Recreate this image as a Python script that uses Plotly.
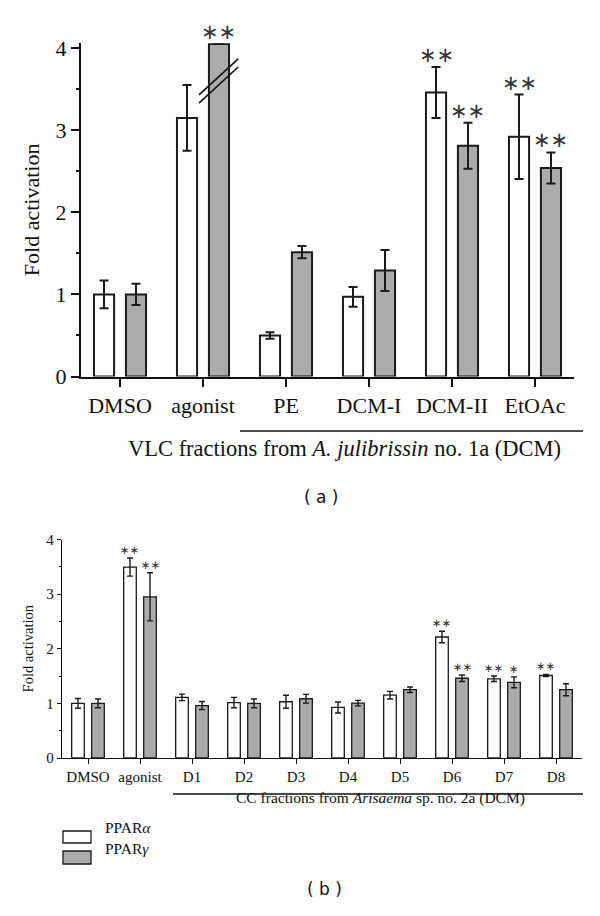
import plotly.graph_objects as go

# ---------------- data: panel (a) ----------------
cats_a = ["DMSO", "agonist", "PE", "DCM-I", "DCM-II", "EtOAc"]
alpha_a = [1.00, 3.15, 0.50, 0.97, 3.46, 2.92]
alpha_a_err = [0.17, 0.40, 0.04, 0.12, 0.31, 0.515]
gamma_a = [1.00, 4.05, 1.515, 1.29, 2.81, 2.54]
gamma_a_err = [0.13, None, 0.075, 0.25, 0.28, 0.19]
alpha_a_sig = ["", "", "", "", "**", "**"]
gamma_a_sig = ["", "**", "", "", "**", "**"]
yticks_a = [0, 1, 2, 3, 4]

# ---------------- data: panel (b) ----------------
cats_b = ["DMSO", "agonist", "D1", "D2", "D3", "D4", "D5", "D6", "D7", "D8"]
alpha_b = [1.00, 3.495, 1.11, 1.015, 1.03, 0.925, 1.15, 2.215, 1.45, 1.51]
alpha_b_err = [0.09, 0.165, 0.06, 0.095, 0.12, 0.10, 0.07, 0.105, 0.05, 0.02]
gamma_b = [1.00, 2.95, 0.96, 1.00, 1.085, 1.005, 1.25, 1.46, 1.385, 1.25]
gamma_b_err = [0.08, 0.44, 0.075, 0.08, 0.08, 0.05, 0.05, 0.06, 0.10, 0.11]
alpha_b_sig = ["", "**", "", "", "", "", "", "**", "**", "**"]
gamma_b_sig = ["", "**", "", "", "", "", "", "**", "*", ""]
yticks_b = [0, 1, 2, 3, 4]

series_names = ["PPARα", "PPARγ"]

# ---------------- page geometry ----------------
# the page body has an 8px margin, so the figure is 8px smaller than the window
PAGE_OFF = 8
W, H = 600 - PAGE_OFF, 916 - PAGE_OFF

def px(x):
    return (x - PAGE_OFF) / W

def py(y):
    return 1 - (y - PAGE_OFF) / H

# ---------------- style ----------------
SERIF = "Liberation Serif"
WHITE = "#ffffff"
GRAY = "#ababab"
EDGE = "#1a1a1a"
TXT = "#111111"
BARGAP = 0.23
GROUPGAP = 0.37
OFFSET = (1 - BARGAP) / 4
HALFW = (1 - BARGAP) / 4 * (1 - GROUPGAP)

fig = go.Figure()

def add_bars(cats, vals, errs, color, xa, ya, lw, ew, cw, name):
    fig.add_trace(go.Bar(
        x=list(range(len(cats))), y=vals, name=name, showlegend=False,
        xaxis=xa, yaxis=ya,
        marker=dict(color=color, line=dict(color=EDGE, width=lw)),
        error_y=dict(type="data", array=errs, visible=True, color=EDGE,
                     thickness=ew, width=cw),
    ))

add_bars(cats_a, alpha_a, alpha_a_err, WHITE, "x", "y", 2, 2, 4.5, series_names[0])
add_bars(cats_a, gamma_a, gamma_a_err, GRAY, "x", "y", 2, 2, 4.5, series_names[1])
add_bars(cats_b, alpha_b, alpha_b_err, WHITE, "x2", "y2", 1.3, 1.4, 3, series_names[0])
add_bars(cats_b, gamma_b, gamma_b_err, GRAY, "x2", "y2", 1.3, 1.4, 3, series_names[1])

ann = []

def stars(vals, errs, sig, side, xref, yref, size, shift):
    for i, (v, e, s) in enumerate(zip(vals, errs, sig)):
        if not s:
            continue
        top = v + (e or 0)
        ann.append(dict(x=i + side * OFFSET, y=top, xref=xref, yref=yref,
                        text="∗" * len(s), showarrow=False, yanchor="bottom",
                        yshift=shift,
                        font=dict(family="DejaVu Sans", size=size, color="#333333")))

stars(alpha_a, alpha_a_err, alpha_a_sig, -1, "x", "y", 21, -2)
stars(gamma_a, gamma_a_err, gamma_a_sig, +1, "x", "y", 21, -2)
stars(alpha_b, alpha_b_err, alpha_b_sig, -1, "x2", "y2", 11.5, -1)
stars(gamma_b, gamma_b_err, gamma_b_sig, +1, "x2", "y2", 11.5, -1)

# group captions
ann.append(dict(x=px(344), y=py(449), xref="paper", yref="paper",
                text="VLC fractions from <i>A. julibrissin</i> no. 1a (DCM)",
                showarrow=False, font=dict(family=SERIF, size=22.5, color=TXT)))
ann.append(dict(x=px(380), y=py(809), xref="paper", yref="paper",
                text="CC fractions from <i>Arisaema</i> sp. no. 2a (DCM)",
                showarrow=False, font=dict(family=SERIF, size=15.5, color=TXT)))
# panel labels
ann.append(dict(x=px(321), y=py(497), xref="paper", yref="paper",
                text="( a )", showarrow=False,
                font=dict(family="DejaVu Sans", size=17, color=TXT)))
ann.append(dict(x=px(324), y=py(901), xref="paper", yref="paper",
                text="( b )", showarrow=False,
                font=dict(family="DejaVu Sans", size=17, color=TXT)))
# legend texts
ann.append(dict(x=px(103), y=py(838), xref="paper", yref="paper",
                text="PPAR<i>α</i>", showarrow=False, xanchor="left",
                font=dict(family=SERIF, size=15.5, color=TXT)))
ann.append(dict(x=px(103), y=py(858.5), xref="paper", yref="paper",
                text="PPAR<i>γ</i>", showarrow=False, xanchor="left",
                font=dict(family=SERIF, size=15.5, color=TXT)))

shapes = []
# legend boxes
shapes.append(dict(type="rect", xref="paper", yref="paper",
                   x0=px(63), x1=px(91), y0=py(843), y1=py(831),
                   fillcolor=WHITE, line=dict(color=EDGE, width=1.3)))
shapes.append(dict(type="rect", xref="paper", yref="paper",
                   x0=px(63), x1=px(91), y0=py(864), y1=py(851),
                   fillcolor=GRAY, line=dict(color=EDGE, width=1.3)))
# group lines
shapes.append(dict(type="line", xref="paper", yref="paper",
                   x0=px(240), x1=px(583), y0=py(431), y1=py(431),
                   line=dict(color=TXT, width=1.6)))
shapes.append(dict(type="line", xref="paper", yref="paper",
                   x0=px(173), x1=px(583), y0=py(794), y1=py(794),
                   line=dict(color=TXT, width=1.3)))
# axis break marks on the agonist PPARγ bar
bx = 1 + OFFSET
for dy in (0.0, -0.10):
    shapes.append(dict(type="line", xref="x", yref="y",
                       x0=bx - HALFW - 0.12, x1=bx + HALFW + 0.11,
                       y0=3.43 + dy, y1=3.87 + dy,
                       line=dict(color=TXT, width=1.6)))

axis_common = dict(showgrid=False, zeroline=False, showline=True, automargin=False,
                   linecolor=TXT, ticks="outside", tickcolor=TXT)

fig.update_layout(
    width=W, height=H,
    margin=dict(l=0, r=0, t=0, b=0),
    paper_bgcolor="white", plot_bgcolor="white",
    barmode="group", bargap=BARGAP, bargroupgap=GROUPGAP,
    showlegend=False,
    xaxis=dict(domain=[px(81), px(574)], anchor="y", range=[-0.47, 5.47],
               tickmode="array", tickvals=list(range(len(cats_a))), ticktext=cats_a,
               linewidth=2, ticklen=8, tickwidth=2,
               tickfont=dict(family=SERIF, size=22, color=TXT), **axis_common),
    yaxis=dict(domain=[py(376.5), py(43.2)], anchor="x", range=[0, 4.06],
               tickmode="array", tickvals=yticks_a, linewidth=2, ticklen=8, tickwidth=2,
               minor=dict(dtick=0.5, ticks="outside", ticklen=3, tickwidth=2, tickcolor=TXT),
               title=dict(text="Fold activation", standoff=10,
                          font=dict(family=SERIF, size=22, color=TXT)),
               tickfont=dict(family=SERIF, size=22, color=TXT), **axis_common),
    xaxis2=dict(domain=[px(62), px(582)], anchor="y2", range=[-0.5, 9.5],
                tickmode="array", tickvals=list(range(len(cats_b))), ticktext=cats_b,
                linewidth=1.3, ticklen=5, tickwidth=1.3,
                tickfont=dict(family=SERIF, size=15, color=TXT), **axis_common),
    yaxis2=dict(domain=[py(758), py(539.5)], anchor="x2", range=[0, 4],
                tickmode="array", tickvals=yticks_b, linewidth=1.3, ticklen=4, tickwidth=1.3,
                minor=dict(dtick=0.5, ticks="outside", ticklen=2, tickwidth=1.3, tickcolor=TXT),
                title=dict(text="Fold activation", standoff=9,
                           font=dict(family=SERIF, size=14.5, color=TXT)),
                tickfont=dict(family=SERIF, size=15, color=TXT), **axis_common),
    annotations=ann,
    shapes=shapes,
)

fig.write_html("out.html")
